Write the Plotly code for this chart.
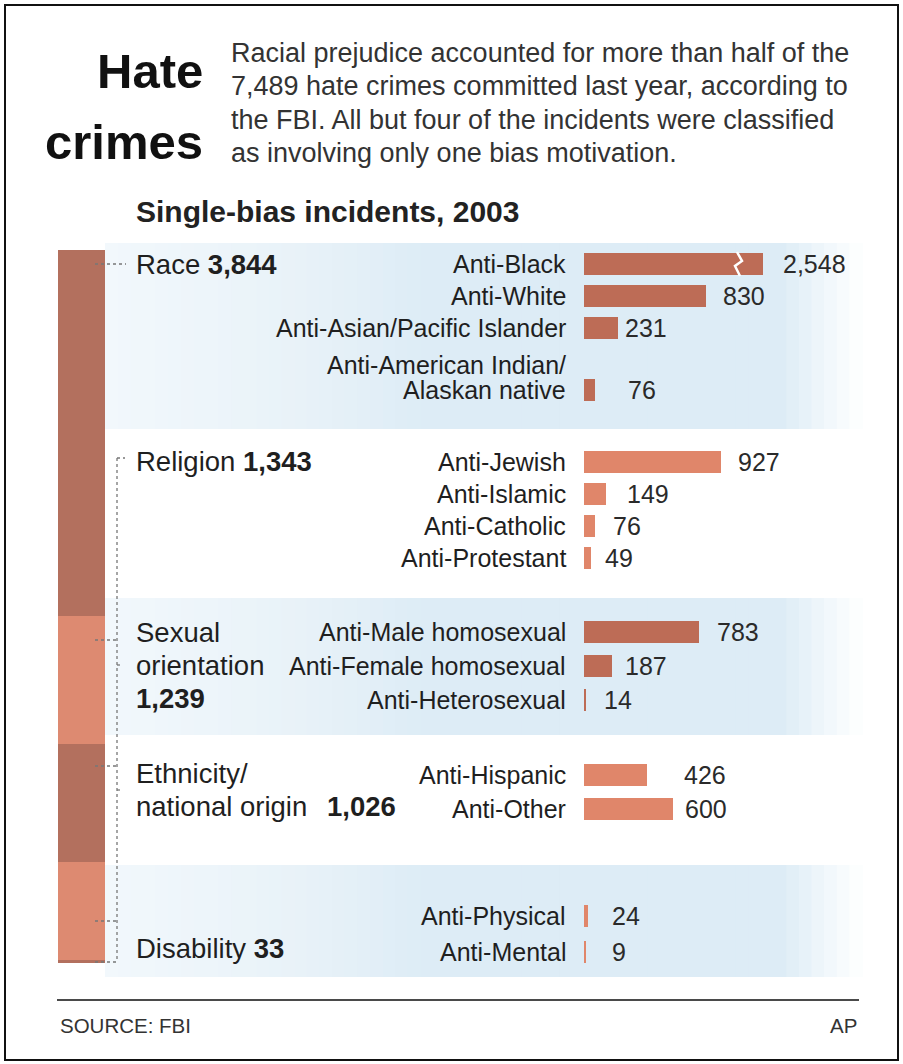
import plotly.graph_objects as go

W, H = 903, 1064

# ---------------- data ----------------
group_names = ["Race", "Religion", "Sexual orientation", "Ethnicity/national origin", "Disability"]
group_totals = [3844, 1343, 1239, 1026, 33]

race_labels = ["Anti-Black", "Anti-White", "Anti-Asian/Pacific Islander", "Anti-American Indian/\nAlaskan native"]
race_values = [2548, 830, 231, 76]
religion_labels = ["Anti-Jewish", "Anti-Islamic", "Anti-Catholic", "Anti-Protestant"]
religion_values = [927, 149, 76, 49]
sexual_labels = ["Anti-Male homosexual", "Anti-Female homosexual", "Anti-Heterosexual"]
sexual_values = [783, 187, 14]
ethnicity_labels = ["Anti-Hispanic", "Anti-Other"]
ethnicity_values = [426, 600]
disability_labels = ["Anti-Physical", "Anti-Mental"]
disability_values = [24, 9]

title_words = ["Hate", "crimes"]
intro_lines = [
    "Racial prejudice accounted for more than half of the",
    "7,489 hate crimes committed last year, according to",
    "the FBI. All but four of the incidents were classified",
    "as involving only one bias motivation.",
]
subtitle = "Single-bias incidents, 2003"
source_text = "SOURCE: FBI"
credit_text = "AP"

# ---------------- styles / layout ----------------
FONT = "Liberation Sans, Arial, Helvetica, sans-serif"
TXT = "#1f1f1f"
DARK_SEG, LIGHT_SEG = "#b3705e", "#dd8a71"
DARK_BAR, LIGHT_BAR = "#bd6c56", "#e0866a"
seg_colors = [DARK_SEG, LIGHT_SEG, DARK_SEG, LIGHT_SEG, DARK_SEG]
bar_colors = [DARK_BAR, LIGHT_BAR, DARK_BAR, LIGHT_BAR, LIGHT_BAR]

px_per_unit = 0.1475          # horizontal scale of the detail bars
bar_x0_px = 584               # left edge of detail bars
axis_end_px = 763             # long bars are broken here
axis_max = (axis_end_px - bar_x0_px) / px_per_unit

group_first_row = [264, 462, 632, 775, 916]
group_pitch = [32, 32, 34, 34, 36]
extra_line = 30
label_line_h = 25
label_gap_px = [18, 15, 5, 31, 15, 19, 16, 12, 16, 11, 16, 35, 10, 22, 25]

def X(px):
    return px / W

def Y(py):
    return 1 - py / H

groups_labels = [race_labels, religion_labels, sexual_labels, ethnicity_labels, disability_labels]
groups_values = [race_values, religion_values, sexual_values, ethnicity_values, disability_values]

rows, vals, cols, labs = [], [], [], []
for g, (lbls, vls) in enumerate(zip(groups_labels, groups_values)):
    y = group_first_row[g]
    for i, (l, v) in enumerate(zip(lbls, vls)):
        if i > 0:
            y += group_pitch[g]
        y += (l.count("\n")) * extra_line
        rows.append(y)
        vals.append(v)
        cols.append(bar_colors[g])
        labs.append(l)

fig = go.Figure()

# detail bars
fig.add_trace(go.Bar(
    x=vals, y=rows, orientation="h", width=21.5,
    marker=dict(color=cols, line=dict(width=0)),
    xaxis="x", yaxis="y", showlegend=False, hoverinfo="x",
))

# stacked overview bar
for name, tot, c in zip(group_names, group_totals, seg_colors):
    fig.add_trace(go.Bar(
        x=[0], y=[tot], width=1, name=name,
        marker=dict(color=c, line=dict(width=0)),
        xaxis="x2", yaxis="y2", showlegend=False, hoverinfo="y+name",
    ))

shapes = []
annotations = []

# background bands (horizontal gradient)
band_extent = [(243, 429), (598, 735), (865, 977)]
stops = [(105, (242, 248, 252)), (300, (232, 242, 248)), (430, (221, 236, 246)),
         (780, (221, 236, 246)), (862, (255, 255, 255))]

def grad(px):
    for (x0, c0), (x1, c1) in zip(stops[:-1], stops[1:]):
        if x0 <= px <= x1:
            t = (px - x0) / (x1 - x0)
            return "rgb(%d,%d,%d)" % tuple(round(a + (b - a) * t) for a, b in zip(c0, c1))
    return "rgb(255,255,255)"

n_slices = 60
for (t, b) in band_extent:
    for k in range(n_slices):
        x0 = stops[0][0] + (stops[-1][0] - stops[0][0]) * k / n_slices
        x1 = stops[0][0] + (stops[-1][0] - stops[0][0]) * (k + 1) / n_slices
        shapes.append(dict(type="rect", xref="paper", yref="paper", layer="below",
                           x0=X(x0), x1=X(x1 + 0.8), y0=Y(b), y1=Y(t),
                           fillcolor=grad((x0 + x1) / 2), line=dict(width=0)))

# break in the long bar
bx = (737 - bar_x0_px) / px_per_unit
d = 5 / px_per_unit
r0 = rows[0]
path = "M %f,%f L %f,%f L %f,%f L %f,%f" % (bx, r0 - 12, bx + d, r0 - 3, bx - 0.4 * d, r0 + 2, bx + 0.6 * d, r0 + 12)
shapes.append(dict(type="path", xref="x", yref="y", path=path, line=dict(color="white", width=2.5), layer="above"))

# leader lines
LC = "#777777"
def dline(x0, y0, x1, y1):
    shapes.append(dict(type="line", xref="paper", yref="paper", x0=X(x0), x1=X(x1), y0=Y(y0), y1=Y(y1),
                       line=dict(color=LC, width=1.3, dash="dot")))
dline(95, 264, 126, 264)
dline(117, 458, 117, 962)
for yy, xe in [(458, 125), (665, 123), (790, 123)]:
    dline(117, yy, xe, yy)
for yy in [640, 766, 921, 962]:
    dline(95, yy, 117, yy)

# footer rule and outer border
shapes.append(dict(type="line", xref="paper", yref="paper", x0=X(57), x1=X(859), y0=Y(1000), y1=Y(1000),
                   line=dict(color="#4a4a4a", width=2)))
shapes.append(dict(type="rect", xref="paper", yref="paper", x0=X(5), x1=X(898), y0=Y(1060), y1=Y(5),
                   line=dict(color="#111111", width=2), fillcolor="rgba(0,0,0,0)"))

def ann(text, x, y, size, anchor="left", color=TXT, bold=False, family=FONT):
    annotations.append(dict(
        text=("<b>%s</b>" % text) if bold else text,
        x=X(x), y=Y(y), xref="paper", yref="paper",
        xanchor=anchor, yanchor="middle", showarrow=False,
        font=dict(family=family, size=size, color=color),
    ))

# header
ann(title_words[0], 205, 71, 49, anchor="right", color="#111", bold=True)
ann(title_words[1], 205, 142, 49, anchor="right", color="#111", bold=True)
for i, line in enumerate(intro_lines):
    ann(line, 229, 53 + 33.3 * i, 27, color="#333333")
ann(subtitle, 134, 211, 30, color="#222", bold=True)

# group labels
gl = 27.5
ann("Race <b>%s</b>" % format(group_totals[0], ","), 134, 264, gl)
ann("Religion <b>%s</b>" % format(group_totals[1], ","), 134, 461, gl)
ann("Sexual", 134, 632, gl)
ann("orientation", 134, 665, gl)
ann("<b>%s</b>" % format(group_totals[2], ","), 134, 698, gl)
ann("Ethnicity/", 134, 773, gl)
ann("national origin", 134, 806, gl)
ann("<b>%s</b>" % format(group_totals[3], ","), 325, 806, gl)
ann("Disability <b>%s</b>" % format(group_totals[4], ","), 134, 948, gl)

# category labels + values
for i, (l, r, v) in enumerate(zip(labs, rows, vals)):
    parts = l.split("\n")
    for j, p in enumerate(reversed(parts)):
        ann(p, 568, r - j * label_line_h, 25, anchor="right")
    annotations.append(dict(
        text=format(v, ","), x=min(v, axis_max * 0.999), y=r, xref="x", yref="y",
        xanchor="left", yanchor="middle", showarrow=False, xshift=label_gap_px[i],
        font=dict(family=FONT, size=25, color="#2a2a2a"),
    ))

# footer
ann(source_text, 58, 1025, 20.5, color="#333")
ann(credit_text, 859, 1025, 20.5, anchor="right", color="#333")

fig.update_layout(
    width=W, height=H, margin=dict(l=0, r=0, t=0, b=0),
    paper_bgcolor="white", plot_bgcolor="rgba(0,0,0,0)",
    barmode="stack", showlegend=False,
    xaxis=dict(domain=[X(bar_x0_px), X(axis_end_px)], range=[0, axis_max], visible=False, fixedrange=True),
    yaxis=dict(domain=[0, 1], range=[H, 0], visible=False, fixedrange=True),
    xaxis2=dict(domain=[X(58), X(105)], range=[-0.5, 0.5], visible=False, anchor="y2", fixedrange=True),
    yaxis2=dict(domain=[Y(963), Y(250)], range=[sum(group_totals), 0], visible=False, anchor="x2", fixedrange=True),
    shapes=shapes, annotations=annotations,
)

fig.write_html("out.html", config={"displayModeBar": False},
               post_script="document.body.style.margin='0px';document.body.style.overflow='hidden';")
